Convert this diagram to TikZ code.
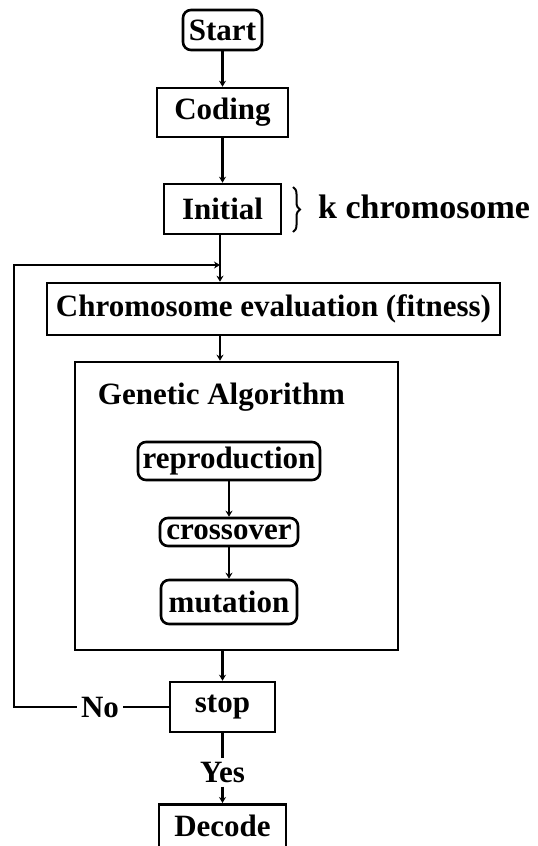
\documentclass[tikz,border=0pt]{standalone}
\usepackage{fontspec}
\setmainfont{Liberation Serif}
\usetikzlibrary{arrows.meta,decorations.pathreplacing}
\begin{document}
\begin{tikzpicture}[x=1pt,y=-1pt,
  every node/.style={font=\bfseries\fontsize{31}{36}\selectfont, inner sep=0pt},
  box/.style={draw, line width=2.6pt, minimum width=#1},
  rbox/.style={draw, line width=2.6pt, rounded corners=8pt, minimum width=#1},
  conn/.style={line width=2.6pt},
  arr/.style={line width=2.6pt, -{Stealth[length=6pt,width=7pt]}},
  lbl/.style={inner sep=4pt}
]
\useasboundingbox (0,0) rectangle (538,846);

\node[rbox=79, minimum height=40] (start) at (222.5,30) {Start};
\node[box=131, minimum height=49] (coding) at (222.5,112.5) {Coding};
\node[box=117, minimum height=50] (initial) at (222.5,209) {Initial};
\node[lbl, anchor=west, font=\bfseries\fontsize{34}{40}\selectfont] (kchr) at (314,207) {k chromosome};
\coordinate (bt) at (293,187);
\coordinate (bb) at (293,232);
\draw[line width=2pt, decorate, decoration={brace, amplitude=7pt}] (bt) -- (bb);

\coordinate (junc) at (220,265);
\coordinate (loopTL) at (14,265);
\node[box=453, minimum height=52] (chrom) at (273.5,309) {Chromosome evaluation (fitness)};

\node[box=323, minimum height=288] (ga) at (236.5,506) {};
\node[lbl] (gatitle) at (221.5,397) {Genetic Algorithm};
\node[rbox=182, minimum height=38] (repro) at (229,461) {reproduction};
\node[rbox=138, minimum height=28] (cross) at (229,532) {crossover};
\node[rbox=136, minimum height=44] (mut) at (229,602) {mutation};

\node[box=105, minimum height=50] (stop) at (222.5,707) {stop};
\node[lbl] (no) at (100,707) {No};
\coordinate (loopBL) at (14,707);
\node[lbl] (yes) at (222.5,772) {Yes};
\node[box=127, minimum height=50, anchor=north] (decode) at (222.5,803) {\raisebox{8pt}{Decode}};

\draw[arr] (start.south) -- (coding.north);
\draw[arr] (coding.south) -- (initial.north);
\draw[conn] (initial.south -| junc) -- (junc);
\draw[arr] (junc) -- (chrom.north -| junc);
\draw[conn] (stop.west) -- (stop.west -| no.east);
\draw[arr] (no.west) -- (loopBL) -- (loopTL) -- (junc);
\draw[arr] (chrom.south -| junc) -- (ga.north -| junc);
\draw[arr] (repro.south) -- (cross.north);
\draw[arr] (cross.south) -- (mut.north);
\draw[arr] (ga.south -| stop) -- (stop.north);
\draw[conn] (stop.south) -- (yes.north);
\draw[arr] (yes.south) -- (decode.north);
\end{tikzpicture}
\end{document}
